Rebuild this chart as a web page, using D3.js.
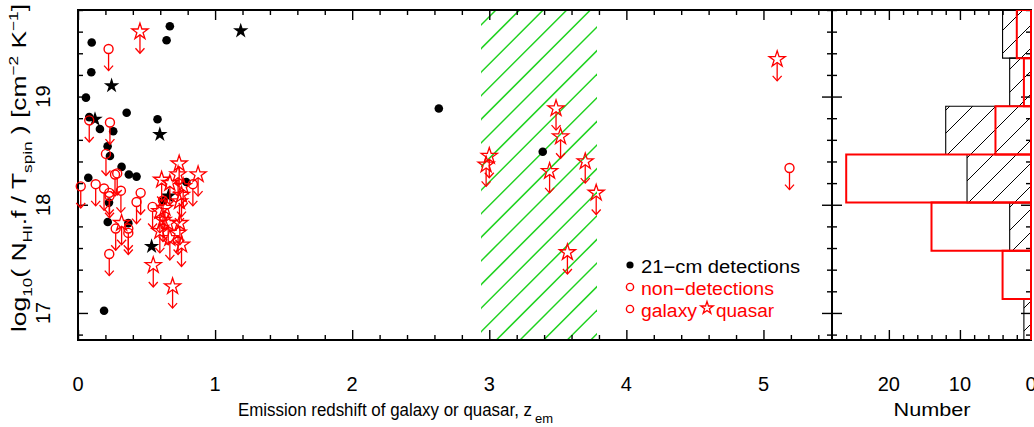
<!DOCTYPE html>
<html>
<head>
<meta charset="utf-8">
<script src="https://cdn.jsdelivr.net/npm/d3@7"></script>
<style>
  body { margin: 0; background: #fff; }
  svg { display: block; }
  text { font-family: "Liberation Sans", Arial, sans-serif; }
</style>
</head>
<body>
<svg id="chart" width="1034" height="427"></svg>
<script>
// 21-cm detections: galaxies (filled circles) and quasars (filled stars)
const detGalaxyZ = [0.10, 0.67, 0.646, 0.097, 0.058, 0.355, 0.58, 0.082, 0.16, 0.257, 0.216, 0.233,
                    0.318, 0.371, 0.427, 0.075, 0.79, 0.226, 0.217, 0.367, 0.19, 0.624, 2.632, 3.39];
const detGalaxyN = [19.50, 19.65, 19.52, 19.225, 18.99, 18.85, 18.79, 18.81, 18.70, 18.68, 18.54, 18.45,
                    18.35, 18.28, 18.26, 18.25, 18.21, 18.02, 17.84, 17.83, 17.02, 18.04, 18.89, 18.49];
const detQuasarZ = [1.187, 0.245, 0.597, 0.124, 0.537, 0.66];
const detQuasarN = [19.607, 19.10, 18.65, 18.79, 17.615, 18.08];

// non-detections (upper limits): galaxies (open circles) and quasars (open stars)
const nonGalaxyZ = [0.223, 0.082, 0.233, 0.204, 0.02, 0.129, 0.27, 0.286, 0.19, 0.228, 0.313,
                    0.457, 0.427, 0.544, 0.275, 0.367, 0.367, 0.228, 0.62, 0.838, 0.23, 5.19];
const nonGalaxyN = [19.44, 18.78, 18.76, 18.47, 18.17, 18.19, 18.28, 18.29, 18.15, 18.11, 18.13,
                    18.11, 18.025, 17.98, 17.78, 17.78, 17.74, 17.545, 18.04, 18.19, 18.08, 18.34];
const nonQuasarZ = [0.452, 5.10, 3.0, 2.977, 3.487, 3.52, 3.44, 3.70, 3.78, 3.57, 0.738, 0.876,
                    0.61, 0.73, 0.67, 0.755, 0.634, 0.597, 0.743, 0.658, 0.597, 0.73, 0.67, 0.755,
                    0.549, 0.69, 0.318, 0.767, 0.74, 0.62];
const nonQuasarN = [19.60, 19.345, 18.45, 18.37, 18.89, 18.63, 18.31, 18.40, 18.11, 17.56, 18.38, 18.28,
                    18.23, 18.28, 18.20, 18.09, 17.97, 17.94, 17.83, 17.83, 17.755, 17.74, 17.69, 17.63,
                    17.44, 17.245, 17.83, 18.17, 18.03, 17.86];

// redshift band shaded with hatching
const bandZ = [2.94, 3.785];

// histogram of log10(N f / Tspin)
const binEdges = [19.8, 19.355, 18.91, 18.465, 18.02, 17.575, 17.13, 16.685];
const detCounts = [4, 3, 12, 9, 3, 0, 1];
const nonCounts = [2, 1, 5, 26, 14, 4, 0];

// tick labels
const zTickLabels = [0, 1, 2, 3, 4, 5];
const nTickLabels = [17, 18, 19];
const countTickLabels = [20, 10, 0];

const RED = "#ff0000";
const GREEN = "#1ed21e";
const upperLimit = 0.2;   // arrow length in dex

const svg = d3.select("#chart");
const L = 78, R = 832, T = 10, B = 340, HR = 1031;

const x = d3.scaleLinear().domain([0, 5.5]).range([L, R]);
const y = d3.scaleLinear().domain([16.75, 19.8]).range([B, T]);
const xh = d3.scaleLinear().domain([28, 0]).range([R, HR]);

const defs = svg.append("defs");
defs.append("clipPath").attr("id", "bandClip").append("rect")
  .attr("x", x(bandZ[0])).attr("y", T).attr("width", x(bandZ[1]) - x(bandZ[0])).attr("height", B - T);
defs.append("clipPath").attr("id", "histClip").append("rect")
  .attr("x", R).attr("y", T).attr("width", HR - R + 2).attr("height", B - T);

// diagonal "/" hatching lines x + y = c covering a box
function hatch(g, x0, x1, y0, y1, step, phase, color, width) {
  const cs = [];
  let c = phase - step * Math.ceil((phase - (x0 + y0)) / step);
  for (; c <= x1 + y1 + step; c += step) cs.push(c);
  g.selectAll("line.h").data(cs).join("line").attr("class", "h")
    .attr("x1", c => c - y1).attr("y1", y1)
    .attr("x2", c => c - y0).attr("y2", y0)
    .attr("stroke", color).attr("stroke-width", width);
}

// shaded redshift band
const band = svg.append("g").attr("clip-path", "url(#bandClip)");
hatch(band, x(bandZ[0]), x(bandZ[1]), T, B, 23.6, 506, GREEN, 1.5);

// frames
svg.append("rect").attr("x", L).attr("y", T).attr("width", R - L).attr("height", B - T)
  .attr("fill", "none").attr("stroke", "#000").attr("stroke-width", 2);
svg.append("rect").attr("x", R).attr("y", T).attr("width", HR - R).attr("height", B - T)
  .attr("fill", "none").attr("stroke", "#000").attr("stroke-width", 2);

function tickSet(tr, axisFn, scale, values, size) {
  const g = svg.append("g").attr("transform", tr)
    .call(axisFn(scale).tickValues(values).tickSize(size).tickFormat(""));
  g.select(".domain").remove();
  g.selectAll(".tick line").attr("stroke", "#000").attr("stroke-width", 1.4);
}
const zMinor = d3.range(0, 5.51, 0.2).filter(v => Math.abs(v - Math.round(v)) > 1e-6);
const zMajor = d3.range(0, 6, 1);
const nMinor = d3.range(16.8, 19.81, 0.2).filter(v => Math.abs(v - Math.round(v)) > 1e-6);
const nMajor = [17, 18, 19];
const cMinor = d3.range(2, 28, 2).filter(v => v % 10 !== 0);
const cMajor = [10, 20];

tickSet(`translate(0,${B})`, d3.axisBottom, x, zMinor, -5);
tickSet(`translate(0,${B})`, d3.axisBottom, x, zMajor, -10);
tickSet(`translate(0,${T})`, d3.axisTop, x, zMinor, -5);
tickSet(`translate(0,${T})`, d3.axisTop, x, zMajor, -10);
tickSet(`translate(${L},0)`, d3.axisLeft, y, nMinor, -5);
tickSet(`translate(${L},0)`, d3.axisLeft, y, nMajor, -10);
tickSet(`translate(${R},0)`, d3.axisRight, y, nMinor, -5);
tickSet(`translate(${R},0)`, d3.axisRight, y, nMajor, -10);
tickSet(`translate(${R},0)`, d3.axisLeft, y, nMinor, -5);
tickSet(`translate(${R},0)`, d3.axisLeft, y, nMajor, -10);
tickSet(`translate(${HR},0)`, d3.axisRight, y, nMinor, -5);
tickSet(`translate(${HR},0)`, d3.axisRight, y, nMajor, -10);
tickSet(`translate(0,${B})`, d3.axisBottom, xh, cMinor, -5);
tickSet(`translate(0,${B})`, d3.axisBottom, xh, cMajor, -10);
tickSet(`translate(0,${T})`, d3.axisTop, xh, cMinor, -5);
tickSet(`translate(0,${T})`, d3.axisTop, xh, cMajor, -10);

// histogram
const bins = binEdges.slice(0, -1).map((e, i) => ({ top: e, bot: binEdges[i + 1], det: detCounts[i], non: nonCounts[i] }));
const hist = svg.append("g").attr("clip-path", "url(#histClip)");
const hc = defs.append("clipPath").attr("id", "detHatch");
hc.selectAll("rect").data(bins.filter(d => d.det > 0)).join("rect")
  .attr("x", d => xh(d.det)).attr("y", d => y(d.top))
  .attr("width", d => xh(0) - xh(d.det)).attr("height", d => y(d.bot) - y(d.top));
const hh = hist.append("g").attr("clip-path", "url(#detHatch)");
hatch(hh, R, HR, T, B, 23, 1010, "#000", 1);
hist.selectAll("path.det").data(bins.filter(d => d.det > 0)).join("path").attr("class", "det")
  .attr("d", d => `M${xh(d.det)},${y(d.top)}H${xh(0)}V${y(d.bot)}H${xh(d.det)}Z`)
  .attr("fill", "none").attr("stroke", "#000").attr("stroke-width", 1.1);
hist.selectAll("path.non").data(bins).join("path").attr("class", "non")
  .attr("d", d => `M${xh(d.non)},${y(d.top)}H${xh(0)}V${y(d.bot)}H${xh(d.non)}Z`)
  .attr("fill", "none").attr("stroke", RED).attr("stroke-width", 2);

// markers
const pts = (zs, ns) => zs.map((z, i) => ({ z, n: ns[i] }));
const starBig = d3.symbol().type(d3.symbolStar).size(81)();
const starBlack = d3.symbol().type(d3.symbolStar).size(74)();
const marks = svg.append("g");

marks.selectAll("circle.dg").data(pts(detGalaxyZ, detGalaxyN)).join("circle").attr("class", "dg")
  .attr("cx", d => x(d.z)).attr("cy", d => y(d.n)).attr("r", 4.3).attr("fill", "#000");
marks.selectAll("path.dq").data(pts(detQuasarZ, detQuasarN)).join("path").attr("class", "dq")
  .attr("d", starBlack).attr("transform", d => `translate(${x(d.z)},${y(d.n)})`).attr("fill", "#000");

function arrows(data, startOff) {
  const g = marks.append("g").attr("stroke", RED).attr("fill", "none").attr("stroke-width", 1.3);
  g.selectAll("line").data(data).join("line")
    .attr("x1", d => x(d.z)).attr("x2", d => x(d.z))
    .attr("y1", d => y(d.n) + startOff).attr("y2", d => y(d.n - upperLimit));
  g.selectAll("path").data(data).join("path")
    .attr("d", d => {
      const cx = x(d.z), tip = y(d.n - upperLimit);
      return `M${cx - 4.5},${tip - 5}L${cx},${tip}L${cx + 4.5},${tip - 5}`;
    });
}
const ng = pts(nonGalaxyZ, nonGalaxyN), nq = pts(nonQuasarZ, nonQuasarN);
arrows(ng, 4.5);
arrows(nq, 3.2);
marks.selectAll("circle.ng").data(ng).join("circle").attr("class", "ng")
  .attr("cx", d => x(d.z)).attr("cy", d => y(d.n)).attr("r", 4.5)
  .attr("fill", "none").attr("stroke", RED).attr("stroke-width", 1.4);
marks.selectAll("path.nq").data(nq).join("path").attr("class", "nq")
  .attr("d", starBig).attr("transform", d => `translate(${x(d.z)},${y(d.n)})`)
  .attr("fill", "none").attr("stroke", RED).attr("stroke-width", 1.3);

// tick labels
svg.append("g").selectAll("text").data(zTickLabels).join("text")
  .attr("x", d => x(d)).attr("y", 391).attr("text-anchor", "middle")
  .attr("font-size", 20).text(d => d);
svg.append("g").selectAll("text").data(countTickLabels).join("text")
  .attr("x", d => xh(d)).attr("y", 391).attr("text-anchor", "middle")
  .attr("font-size", 20).text(d => d);
svg.append("g").selectAll("text").data(nTickLabels).join("text")
  .attr("transform", d => `translate(50,${y(d)}) rotate(-90)`).attr("text-anchor", "middle")
  .attr("font-size", 20).text(d => d);

// axis titles
const xt = svg.append("text").attr("x", 238).attr("y", 416).attr("font-size", 17.5);
xt.append("tspan").attr("textLength", 294).attr("lengthAdjust", "spacingAndGlyphs")
  .text("Emission redshift of galaxy or quasar, z");
xt.append("tspan").attr("dx", 3).attr("dy", 7).attr("font-size", 13).text("em");
svg.append("text").attr("x", 932).attr("y", 416).attr("font-size", 19).attr("text-anchor", "middle")
  .attr("textLength", 77).attr("lengthAdjust", "spacingAndGlyphs").text("Number");

const yl = svg.append("text").attr("transform", "translate(26,168) rotate(-90)")
  .attr("text-anchor", "middle").attr("font-size", 20)
  .attr("textLength", 328).attr("lengthAdjust", "spacingAndGlyphs");
const parts = [
  ["log", 0, 20], ["10", 6, 13], ["( N", -6, 20], ["HI", 6, 13], [".f / T", -6, 20],
  ["spin", 6, 13], [" ) [cm", -6, 20], ["\u22122", -8, 13], [" K", 8, 20], ["\u22121", -8, 13], ["]", 8, 20]
];
yl.selectAll("tspan").data(parts).join("tspan")
  .attr("dy", d => d[1]).attr("font-size", d => d[2]).text(d => d[0]);

// legend
const lg = svg.append("g");
lg.append("circle").attr("cx", 630).attr("cy", 265).attr("r", 3.6).attr("fill", "#000");
lg.append("text").attr("x", 641).attr("y", 273).attr("font-size", 18)
  .attr("textLength", 159).attr("lengthAdjust", "spacingAndGlyphs").text("21\u2212cm detections");
lg.append("circle").attr("cx", 630).attr("cy", 287).attr("r", 3.6)
  .attr("fill", "none").attr("stroke", RED).attr("stroke-width", 1.4);
lg.append("text").attr("x", 641).attr("y", 295).attr("font-size", 18).attr("fill", RED)
  .attr("textLength", 133).attr("lengthAdjust", "spacingAndGlyphs").text("non\u2212detections");
lg.append("circle").attr("cx", 630).attr("cy", 309).attr("r", 3.6)
  .attr("fill", "none").attr("stroke", RED).attr("stroke-width", 1.4);
lg.append("text").attr("x", 641).attr("y", 317).attr("font-size", 18).attr("fill", RED)
  .attr("textLength", 56).attr("lengthAdjust", "spacingAndGlyphs").text("galaxy");
lg.append("path").attr("d", d3.symbol().type(d3.symbolStar).size(48)())
  .attr("transform", "translate(707,308)").attr("fill", "none").attr("stroke", RED).attr("stroke-width", 1.3);
lg.append("text").attr("x", 716).attr("y", 317).attr("font-size", 18).attr("fill", RED)
  .attr("textLength", 58).attr("lengthAdjust", "spacingAndGlyphs").text("quasar");
</script>
</body>
</html>
